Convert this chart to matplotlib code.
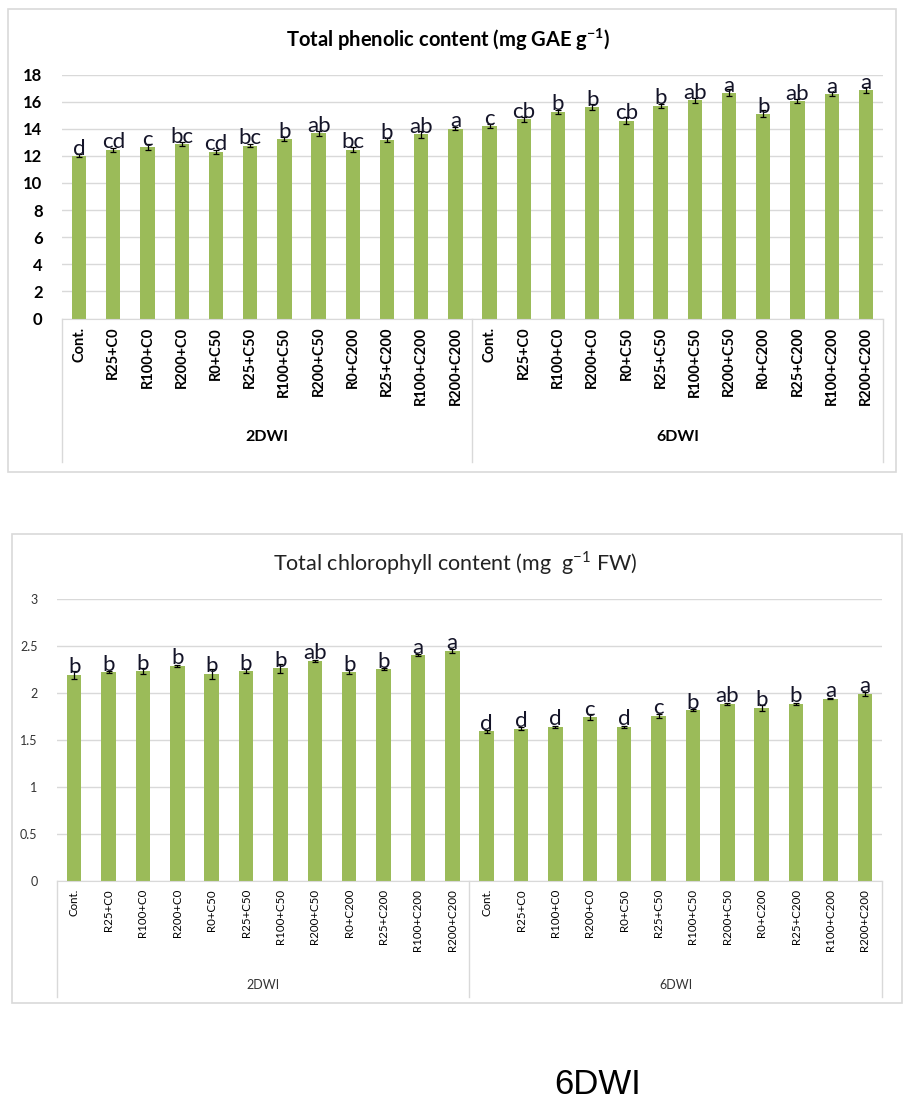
import numpy as np
import matplotlib
matplotlib.use("Agg")
import matplotlib.pyplot as plt
from matplotlib.patches import Rectangle
from matplotlib.ticker import FuncFormatter
import matplotlib.transforms as mtransforms

plt.rcParams['font.family'] = ['Lato', 'DejaVu Sans']
plt.rcParams['mathtext.fontset'] = 'custom'
plt.rcParams['mathtext.rm'] = 'Lato'
plt.rcParams['mathtext.bf'] = 'Lato:bold'

treatments = ['Cont.', 'R25+C0', 'R100+C0', 'R200+C0', 'R0+C50', 'R25+C50',
              'R100+C50', 'R200+C50', 'R0+C200', 'R25+C200', 'R100+C200', 'R200+C200']
groups = ['2DWI', '6DWI']

# total phenolic content, 2DWI then 6DWI
phenolic = [12.0, 12.45, 12.65, 12.85, 12.3, 12.75, 13.25, 13.65, 12.45, 13.15, 13.6, 14.0,
            14.2, 14.7, 15.25, 15.6, 14.6, 15.7, 16.1, 16.65, 15.1, 16.05, 16.55, 16.85]
phenolic_err = [0.12, 0.15, 0.2, 0.15, 0.15, 0.12, 0.15, 0.2, 0.2, 0.15, 0.25, 0.12,
                0.12, 0.2, 0.15, 0.2, 0.25, 0.15, 0.2, 0.25, 0.25, 0.12, 0.15, 0.2]
phenolic_let = ['d', 'cd', 'c', 'bc', 'cd', 'bc', 'b', 'ab', 'bc', 'b', 'ab', 'a',
                'c', 'cb', 'b', 'b', 'cb', 'b', 'ab', 'a', 'b', 'ab', 'a', 'a']

# total chlorophyll content
chloro = [2.19, 2.22, 2.23, 2.29, 2.20, 2.23, 2.26, 2.34, 2.22, 2.25, 2.40, 2.45,
          1.59, 1.62, 1.64, 1.74, 1.64, 1.755, 1.815, 1.885, 1.84, 1.885, 1.94, 1.99]
chloro_err = [0.04, 0.01, 0.03, 0.01, 0.05, 0.02, 0.05, 0.01, 0.02, 0.01, 0.01, 0.02,
              0.02, 0.02, 0.01, 0.03, 0.01, 0.02, 0.01, 0.01, 0.03, 0.01, 0.01, 0.02]
chloro_let = ['b', 'b', 'b', 'b', 'b', 'b', 'b', 'ab', 'b', 'b', 'a', 'a',
              'd', 'd', 'd', 'c', 'd', 'c', 'b', 'ab', 'b', 'b', 'a', 'a']

green = '#9bbb59'
grid = '#d9d9d9'
W, H = 904, 1102

fig = plt.figure(figsize=(W / 100, H / 100), dpi=100)


def box(x0, y0, x1, y1):
    # pixel rectangle -> figure fraction
    return [x0 / W, 1 - y1 / H, (x1 - x0) / W, (y1 - y0) / H]


def frame(x0, y0, x1, y1):
    r = box(x0, y0, x1, y1)
    fig.patches.append(Rectangle((r[0], r[1]), r[2], r[3], transform=fig.transFigure,
                                 fill=False, edgecolor=grid, lw=1.2))


def panel(rect, vals, errs, lets, ymax, ystep, bold, tsize, csize, gsize, sep_y, lab_y, let_off):
    ax = fig.add_axes(rect)
    n = len(vals)
    x = np.arange(n)
    ax.bar(x, vals, width=0.42, color=green, zorder=2)
    ax.errorbar(x, vals, yerr=errs, fmt='none', ecolor='black', elinewidth=0.9,
                capsize=2.2, capthick=0.9, zorder=3)
    for xi, v, l in zip(x, vals, lets):
        ax.text(xi, v + let_off, l, ha='center', va='bottom', fontsize=16,
                color='#141428', zorder=4)
    ax.set_xlim(-0.5, n - 0.5)
    ax.set_ylim(0, ymax)
    ax.set_yticks(np.arange(0, ymax + ystep / 2, ystep))
    ax.yaxis.set_major_formatter(FuncFormatter(lambda v, p: '%g' % v))
    ax.yaxis.grid(True, color=grid, lw=1)
    ax.set_axisbelow(True)
    for s in ['top', 'right', 'left']:
        ax.spines[s].set_visible(False)
    ax.spines['bottom'].set_color(grid)
    ax.tick_params(axis='y', length=0, pad=14, labelsize=tsize,
                   labelcolor='black' if bold else '#333333')
    ax.set_xticks(x)
    ax.set_xticklabels(treatments * 2, rotation=90, fontsize=csize,
                       fontweight='bold' if bold else 'normal')
    ax.tick_params(axis='x', length=0, pad=6)
    if bold:
        for t in ax.get_yticklabels():
            t.set_fontweight('bold')
    trans = mtransforms.blended_transform_factory(ax.transData, ax.transAxes)
    for xs in [-0.5, 11.5, 23.5]:
        ax.plot([xs, xs], [0, sep_y], color=grid, lw=1, transform=trans, clip_on=False)
    for gi, g in enumerate(groups):
        ax.text(gi * 12 + 5.5, lab_y, g, transform=trans, ha='center', va='center',
                fontsize=gsize, fontweight='bold' if bold else 'normal',
                color='black' if bold else '#333333')
    return ax


# top panel
frame(8, 9, 896, 472)
panel(box(62, 74.5, 883, 318.5), phenolic, phenolic_err, phenolic_let, 18, 2,
      True, 12, 10.5, 11.5, -0.588, -0.486, -0.2)
fig.text(448 / W, 1 - 40 / H, 'Total phenolic content (mg GAE g$^{\\mathbf{-1}}$)',
         ha='center', va='center', fontsize=14.5, fontweight='bold')

# bottom panel
frame(12, 534, 902, 1003)
panel(box(57, 599, 882, 880.7), chloro, chloro_err, chloro_let, 3, 0.5,
      False, 9, 8.3, 9, -0.413, -0.37, -0.025)
fig.text(455 / W, 1 - 563 / H, 'Total chlorophyll content (mg  g$^{-1}$ FW)',
         ha='center', va='center', fontsize=15.5, color='#222222')

fig.text(598 / W, 1 - 1085 / H, '6DWI', ha='center', va='center', fontsize=25,
         family='Liberation Sans')

fig.savefig('out.png', dpi=100)
